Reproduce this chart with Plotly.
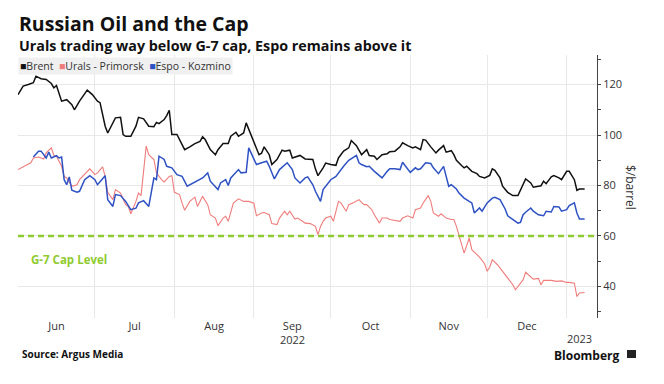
import plotly.graph_objects as go

# ---------------- data ----------------
brent_dates = ["2022-06-01","2022-06-03","2022-06-05","2022-06-07","2022-06-08","2022-06-10","2022-06-12","2022-06-14","2022-06-15","2022-06-16","2022-06-18","2022-06-20","2022-06-22","2022-06-23","2022-06-25","2022-06-28","2022-06-30","2022-07-02","2022-07-03","2022-07-05","2022-07-06","2022-07-07","2022-07-09","2022-07-11","2022-07-12","2022-07-13","2022-07-15","2022-07-17","2022-07-18","2022-07-20","2022-07-22","2022-07-24","2022-07-25","2022-07-26","2022-07-28","2022-07-29","2022-07-30","2022-07-31","2022-08-02","2022-08-04","2022-08-05","2022-08-07","2022-08-09","2022-08-11","2022-08-12","2022-08-13","2022-08-15","2022-08-17","2022-08-18","2022-08-20","2022-08-22","2022-08-23","2022-08-25","2022-08-26","2022-08-28","2022-08-29","2022-08-31","2022-09-01","2022-09-03","2022-09-04","2022-09-05","2022-09-07","2022-09-08","2022-09-10","2022-09-12","2022-09-13","2022-09-15","2022-09-16","2022-09-18","2022-09-19","2022-09-21","2022-09-24","2022-09-25","2022-09-26","2022-09-28","2022-09-29","2022-10-01","2022-10-03","2022-10-04","2022-10-06","2022-10-08","2022-10-09","2022-10-11","2022-10-12","2022-10-13","2022-10-15","2022-10-16","2022-10-18","2022-10-19","2022-10-21","2022-10-23","2022-10-24","2022-10-26","2022-10-28","2022-10-29","2022-10-31","2022-11-02","2022-11-03","2022-11-05","2022-11-06","2022-11-07","2022-11-09","2022-11-11","2022-11-12","2022-11-14","2022-11-15","2022-11-17","2022-11-18","2022-11-19","2022-11-21","2022-11-22","2022-11-23","2022-11-25","2022-11-27","2022-11-28","2022-11-30","2022-12-02","2022-12-03","2022-12-04","2022-12-06","2022-12-07","2022-12-09","2022-12-11","2022-12-13","2022-12-14","2022-12-16","2022-12-18","2022-12-19","2022-12-21","2022-12-22","2022-12-23","2022-12-24","2022-12-26","2022-12-27","2022-12-29","2022-12-30","2023-01-01","2023-01-02","2023-01-04","2023-01-05","2023-01-06","2023-01-08"]
brent_values = [116,119.4,120,120.7,123.3,122.3,122,120.4,118.7,119.6,113.4,114,112,110,113.4,117.8,116,113.4,112.8,103.5,100.8,102.8,106.8,107,100.2,99.5,99.5,103.5,107,106.4,103.5,103.3,105,104.5,106.1,107.7,109.8,100.2,100.2,96.2,94.2,95.3,96.6,97.5,99.3,98.2,94.2,92.2,94.2,96.6,96.6,99.5,101.1,99.5,100.8,104.8,99.5,97.5,92.2,92.8,95.3,92.2,88.3,90.3,94,93.6,94,90.9,91.6,91.9,90.5,90.3,86.6,83.9,87,88.9,88.3,88,90.9,93.6,94.9,97.8,95.8,94.2,92.2,94.2,91.9,91.6,90.3,92.2,92.6,93.4,93.6,95.3,96.9,95.8,94.9,95.3,94.2,98.2,98,95.3,92.9,94,95.8,93.2,93.8,92.2,90,87.9,87,87.6,85.6,84.7,83.6,83,84,86.6,86,83,79.7,77.3,76,76,78.4,82.6,81,79.3,79.7,79.9,81.7,80.7,83.4,83.9,83,82.3,85.6,85.6,82.3,78.1,78.6,78.6]

urals_dates = ["2022-06-01","2022-06-03","2022-06-06","2022-06-07","2022-06-09","2022-06-11","2022-06-12","2022-06-14","2022-06-15","2022-06-16","2022-06-18","2022-06-19","2022-06-20","2022-06-22","2022-06-24","2022-06-25","2022-06-27","2022-06-29","2022-07-01","2022-07-02","2022-07-04","2022-07-05","2022-07-06","2022-07-07","2022-07-08","2022-07-09","2022-07-11","2022-07-13","2022-07-14","2022-07-15","2022-07-17","2022-07-18","2022-07-19","2022-07-21","2022-07-22","2022-07-24","2022-07-25","2022-07-27","2022-07-28","2022-07-30","2022-07-31","2022-08-01","2022-08-03","2022-08-04","2022-08-05","2022-08-07","2022-08-09","2022-08-10","2022-08-12","2022-08-14","2022-08-15","2022-08-17","2022-08-18","2022-08-20","2022-08-21","2022-08-22","2022-08-24","2022-08-26","2022-08-28","2022-08-30","2022-09-01","2022-09-02","2022-09-04","2022-09-05","2022-09-07","2022-09-08","2022-09-10","2022-09-11","2022-09-13","2022-09-14","2022-09-15","2022-09-17","2022-09-18","2022-09-20","2022-09-21","2022-09-23","2022-09-25","2022-09-26","2022-09-27","2022-09-28","2022-09-29","2022-10-01","2022-10-02","2022-10-04","2022-10-05","2022-10-07","2022-10-08","2022-10-10","2022-10-12","2022-10-13","2022-10-14","2022-10-15","2022-10-17","2022-10-18","2022-10-20","2022-10-21","2022-10-23","2022-10-24","2022-10-26","2022-10-28","2022-10-29","2022-10-31","2022-11-02","2022-11-03","2022-11-05","2022-11-06","2022-11-08","2022-11-09","2022-11-10","2022-11-12","2022-11-13","2022-11-15","2022-11-17","2022-11-18","2022-11-19","2022-11-21","2022-11-22","2022-11-24","2022-11-25","2022-11-27","2022-11-28","2022-11-30","2022-12-01","2022-12-02","2022-12-03","2022-12-05","2022-12-07","2022-12-09","2022-12-11","2022-12-12","2022-12-13","2022-12-15","2022-12-16","2022-12-18","2022-12-19","2022-12-21","2022-12-22","2022-12-23","2022-12-26","2022-12-28","2022-12-30","2023-01-01","2023-01-02","2023-01-04","2023-01-05","2023-01-06","2023-01-08"]
urals_values = [86.3,87.4,89,90.9,91.3,90.5,92.9,94.9,91.9,91.6,87.6,83.6,83,79.7,80.3,82.3,84.3,86.6,84.3,85,87.4,83.6,77.3,75.7,74.4,78.4,77,72.4,71.7,68.8,73.7,77,76,95.6,92.2,90.3,85,82.3,81.4,83.6,83.9,77.3,76.4,73,70.2,73.7,75.4,71.7,75.7,72.4,68.4,67.1,64.1,67.1,67.8,65.8,73,74.7,73.7,73.7,73,68,69.1,69.3,68.4,64.9,64.5,67.1,69.8,68.4,69.8,66.7,67.1,65.8,65.1,64.9,63.8,60.5,63.8,65.8,67.1,67.8,65.8,73.7,73,69.8,72.4,73.3,74.4,73.3,72.4,72.4,70.4,68.4,65.1,67.1,67.1,66.5,66.3,65.8,67.1,68,67.1,70.4,71.1,73,76,73.7,69.1,67.8,68.8,67.1,66.5,66.5,63.8,57.2,53.2,59.2,54.6,52.6,51.6,49,46,47.7,50.6,48.6,46,43.3,40.7,38.7,40,42.6,45.6,44,42.9,43.2,40.7,42.4,42.4,42,42.2,41.6,41.6,41.3,36,37.4,37.6]

espo_dates = ["2022-06-07","2022-06-09","2022-06-10","2022-06-12","2022-06-13","2022-06-14","2022-06-16","2022-06-17","2022-06-18","2022-06-19","2022-06-20","2022-06-21","2022-06-22","2022-06-24","2022-06-25","2022-06-27","2022-06-29","2022-07-01","2022-07-02","2022-07-04","2022-07-05","2022-07-06","2022-07-08","2022-07-09","2022-07-11","2022-07-13","2022-07-15","2022-07-17","2022-07-18","2022-07-20","2022-07-22","2022-07-24","2022-07-25","2022-07-26","2022-07-28","2022-07-29","2022-07-31","2022-08-02","2022-08-04","2022-08-06","2022-08-08","2022-08-10","2022-08-12","2022-08-14","2022-08-15","2022-08-18","2022-08-19","2022-08-21","2022-08-22","2022-08-23","2022-08-26","2022-08-27","2022-08-29","2022-08-30","2022-09-01","2022-09-02","2022-09-04","2022-09-06","2022-09-07","2022-09-09","2022-09-11","2022-09-14","2022-09-16","2022-09-17","2022-09-19","2022-09-21","2022-09-22","2022-09-24","2022-09-25","2022-09-27","2022-09-28","2022-09-29","2022-10-01","2022-10-03","2022-10-04","2022-10-06","2022-10-08","2022-10-11","2022-10-12","2022-10-13","2022-10-15","2022-10-16","2022-10-18","2022-10-19","2022-10-21","2022-10-23","2022-10-24","2022-10-26","2022-10-28","2022-10-29","2022-10-31","2022-11-01","2022-11-03","2022-11-04","2022-11-05","2022-11-07","2022-11-09","2022-11-10","2022-11-12","2022-11-14","2022-11-15","2022-11-16","2022-11-17","2022-11-19","2022-11-20","2022-11-22","2022-11-24","2022-11-25","2022-11-26","2022-11-28","2022-11-29","2022-12-01","2022-12-03","2022-12-04","2022-12-06","2022-12-08","2022-12-09","2022-12-11","2022-12-13","2022-12-14","2022-12-15","2022-12-16","2022-12-18","2022-12-19","2022-12-21","2022-12-23","2022-12-24","2022-12-26","2022-12-27","2022-12-29","2022-12-30","2023-01-01","2023-01-02","2023-01-04","2023-01-05","2023-01-06","2023-01-08"]
espo_values = [91.3,93.6,93.6,90.9,93.2,90.9,91.8,90.9,91.3,82.3,80.3,83.4,78.1,77.3,77.7,82.3,83.9,82.3,80.3,83,83.9,74.4,71.7,76.4,76,73.7,70.4,71,73.1,74,71.7,83,82.3,91.6,90.3,87.6,87,84.3,83.6,79.7,80.7,81.7,83,85,81.7,78.4,81,82.3,80,83,86.3,85,85.2,94.9,90.3,88.3,89,89.6,87.6,82.6,86.3,89,86.3,83,81,83,83.4,80.3,77.7,73.7,78.4,79.7,82.3,83.6,85,87.6,90,91.9,89,88.3,87.4,87.6,85.6,84.7,83,85.6,86.6,86.6,86.3,89.2,86.6,85.2,87,86.3,86.6,89,88.7,87,84.7,87.6,83.6,79.7,80.3,78.6,77,75,73.7,73.1,69.1,71.1,69.8,73.1,75,75.3,74.4,70.7,68,66.5,65.1,65.4,68.4,69.4,71.1,69.8,68.4,68,69.8,69.5,71.7,71.5,69.8,70.4,72,73.1,69.1,66.7,66.7]

CAP_LEVEL = 60
series_names = ["Brent", "Urals - Primorsk", "Espo - Kozmino"]
series_colors = ["#111111", "#f07c7c", "#2e52c4"]
y_ticks = [40, 60, 80, 100, 120]
x_range = ["2022-06-01", "2023-01-12T20:00"]
y_range = [27.5, 131.7]

FONT = "Open Sans"
BODY = 8  # browser default body margin around the plot div

fig = go.Figure()
fig.add_trace(go.Scatter(x=urals_dates, y=urals_values, mode="lines", name=series_names[1],
                         line=dict(color=series_colors[1], width=1.1), showlegend=False))
fig.add_trace(go.Scatter(x=espo_dates, y=espo_values, mode="lines", name=series_names[2],
                         line=dict(color=series_colors[2], width=1.5), showlegend=False))
fig.add_trace(go.Scatter(x=brent_dates, y=brent_values, mode="lines", name=series_names[0],
                         line=dict(color=series_colors[0], width=1.5), showlegend=False))

fig.add_hline(y=CAP_LEVEL, line=dict(color="#8fcb2f", width=2.5, dash="6px,4px"))

fig.update_layout(
    width=664 - BODY, height=384 - BODY,
    margin=dict(l=18 - BODY, r=67, t=55 - BODY, b=66),
    paper_bgcolor="white", plot_bgcolor="white",
    font=dict(family=FONT, size=11, color="#333333"),
    xaxis=dict(
        type="date", range=x_range,
        dtick="M1", tick0="2022-06-01", tickformat="%b", ticklabelmode="period",
        showgrid=True, gridcolor="#e8e8e8", gridwidth=1,
        ticks="", showline=False, zeroline=False,
        tickfont=dict(size=11, color="#333333"),
    ),
    yaxis=dict(
        side="right", range=y_range, tickvals=y_ticks,
        showgrid=True, gridcolor="#e8e8e8", gridwidth=1,
        showline=True, linecolor="#444444", linewidth=1,
        ticks="outside", ticklen=3, tickcolor="#444444",
        minor=dict(dtick=10, ticks="outside", ticklen=3, tickcolor="#444444", showgrid=False),
        zeroline=False, tickfont=dict(size=11, color="#333333"),
    ),
)

def py(pix):
    return (318 - pix) / 263.0

def px(pix):
    return (pix - 18) / 579.0

legend_text = ("<span style='color:%s'>■</span>Brent  "
               "<span style='color:%s'>■</span>Urals - Primorsk  "
               "<span style='color:%s'>■</span>Espo - Kozmino") % tuple(series_colors)

anns = [
    dict(text="<b>Russian Oil and the Cap</b>", x=px(17), y=py(23.5), xanchor="left", yanchor="middle",
         font=dict(size=19.5, color="#111111", family=FONT)),
    dict(text="<b>Urals trading way below G-7 cap, Espo remains above it</b>", x=px(17), y=py(45.5),
         xanchor="left", yanchor="middle", font=dict(size=14.3, color="#111111", family=FONT)),
    dict(text=legend_text, x=px(18), y=py(66), xanchor="left", yanchor="middle",
         font=dict(size=10.5, color="#333333", family=FONT), bgcolor="#f0f0f0", borderpad=1),
    dict(text="<b>G-7 Cap Level</b>", x=px(29), y=py(259), xanchor="left", yanchor="middle",
         font=dict(size=11.5, color="#8fcb2f", family=FONT)),
    dict(text="<b>Source: Argus Media</b>", x=px(20), y=py(354), xanchor="left", yanchor="middle",
         font=dict(size=10, color="#111111", family=FONT)),
    dict(text="<b>Bloomberg</b>", x=px(622), y=py(355), xanchor="right", yanchor="middle",
         font=dict(size=12, color="#111111", family=FONT)),
    dict(text="$/barrel", x=px(631), y=py(187), xanchor="center", yanchor="middle", textangle=90,
         font=dict(size=12, color="#333333", family=FONT)),
]
for a in anns:
    a.update(xref="paper", yref="paper", showarrow=False)
    fig.add_annotation(**a)

# year labels under the month ticks
fig.add_annotation(text="2022", x="2022-09-16", xref="x", y=py(339.5), yref="paper", showarrow=False,
                   font=dict(size=11, color="#333333", family=FONT), yanchor="middle")
fig.add_annotation(text="2023", x="2023-01-06", xref="x", y=py(338.5), yref="paper", showarrow=False,
                   font=dict(size=11, color="#333333", family=FONT), yanchor="middle")

# Bloomberg icon
fig.add_shape(type="rect", xref="paper", yref="paper", x0=px(627), x1=px(636), y0=py(358), y1=py(350),
              fillcolor="#222222", line=dict(width=0))

fig.write_html("out.html")
